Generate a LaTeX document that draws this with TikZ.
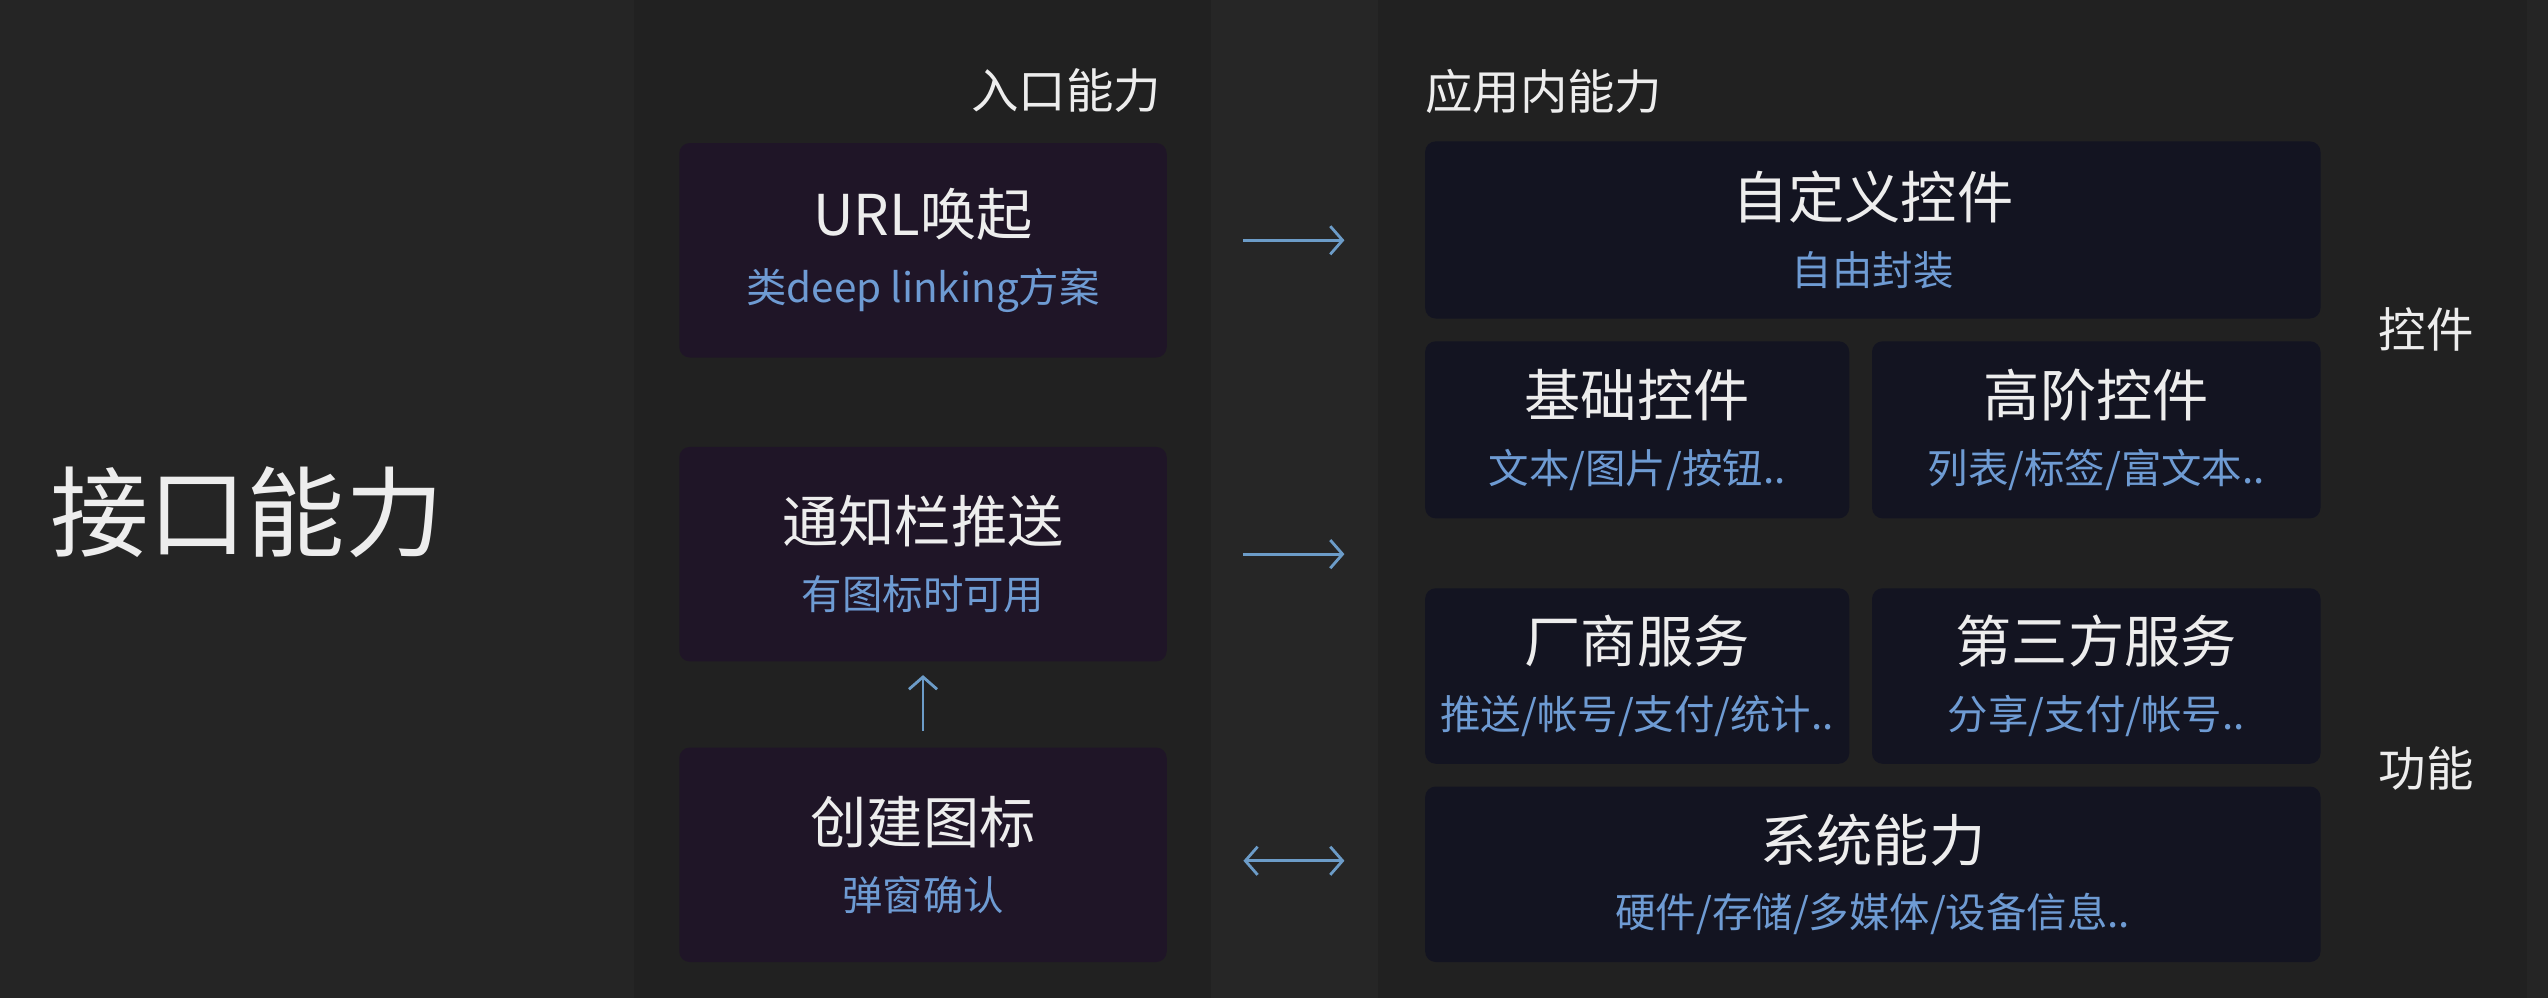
\documentclass[tikz,border=0pt]{standalone}
\usepackage{fontspec}
\setmainfont{Noto Sans CJK SC}
\usetikzlibrary{arrows.meta,positioning}
\definecolor{pagebg}{HTML}{252525}
\definecolor{panelbg}{HTML}{212121}
\definecolor{gapbg}{HTML}{262626}
\definecolor{entryfill}{HTML}{1F1527}
\definecolor{appfill}{HTML}{131421}
\definecolor{subblue}{HTML}{6E9BD3}
\definecolor{arrblue}{HTML}{6C9CC8}
\definecolor{txt}{HTML}{EDEDED}
\newcommand{\subline}[1]{{\color{subblue}\fontsize{11.5}{14}\selectfont #1}}

\begin{document}
\begin{tikzpicture}[x=0.01625cm, y=-0.01625cm,
  entry/.style={fill=entryfill, rounded corners=3pt, minimum width=4.875cm, minimum height=2.145cm, align=center, text=txt, font=\fontsize{16}{19}\selectfont},
  app/.style={fill=appfill, rounded corners=3pt, minimum height=1.771cm, align=center, text=txt, font=\fontsize{16}{19}\selectfont},
  side/.style={text=txt, font=\fontsize{13.5}{16}\selectfont},
  arr/.style={arrblue, line width=0.8pt, -{Straight Barb[length=3.5pt,width=8pt]}}]
% backdrop
\fill[pagebg] (0,0) rectangle (1568,614);
\fill[gapbg] (745,0) rectangle (848,614);
\fill[panelbg] (390,0) rectangle (745,614);
\fill[panelbg] (848,0) rectangle (1555,614);
\useasboundingbox (0,0) rectangle (1568,614);

\node[text=txt, font=\fontsize{28}{32}\selectfont] (title) at (152,315) {接口能力};

% entry side
\node[side] (entryhd) at (656,56) {入口能力};
\node[entry] (url) at (568,154) {URL唤起 \\ \subline{类deep linking方案}};
\node[entry] (notify) at (568,341) {通知栏推送 \\ \subline{有图标时可用}};
\node[entry] (icon) at (568,526) {创建图标 \\ \subline{弹窗确认}};
\draw[arr, shorten <=0.16cm, shorten >=0.13cm] (icon.north) -- (notify.south);

% in-app side
\node[side] (apphd) at (950,56) {应用内能力};
\node[app, minimum width=8.954cm] (cust) at (1152.5,141.5) {自定义控件 \\ \subline{自由封装}};
\node[app, minimum width=4.241cm] (basic) at (1007.5,264.5) {基础控件 \\ \subline{文本/图片/按钮..}};
\node[app, minimum width=4.485cm] (adv) at (1290,264.5) {高阶控件 \\ \subline{列表/标签/富文本..}};
\node[app, minimum width=4.241cm, minimum height=1.755cm] (vendor) at (1007.5,416) {厂商服务 \\ \subline{推送/帐号/支付/统计..}};
\node[app, minimum width=4.485cm, minimum height=1.755cm] (third) at (1290,416) {第三方服务 \\ \subline{分享/支付/帐号..}};
\node[app, minimum width=8.954cm, minimum height=1.755cm] (sys) at (1152.5,538) {系统能力 \\ \subline{硬件/存储/多媒体/设备信息..}};

\node[side] (ctrl) at (1493,203) {控件};
\node[side] (func) at (1493,473) {功能};

% links
\draw[arr, shorten <=0.76cm, shorten >=0.8cm] ([yshift=0.1cm]url.east) -- ([yshift=0.1cm]url.east -| cust.west);
\draw[arr, shorten <=0.76cm, shorten >=0.8cm] (notify.east) -- (notify.east -| cust.west);
\draw[arr, {Straight Barb[length=3.5pt,width=8pt]}-{Straight Barb[length=3.5pt,width=8pt]}, shorten <=0.76cm, shorten >=0.8cm] ([yshift=-0.06cm]icon.east) -- ([yshift=-0.06cm]icon.east -| sys.west);
\end{tikzpicture}
\end{document}
